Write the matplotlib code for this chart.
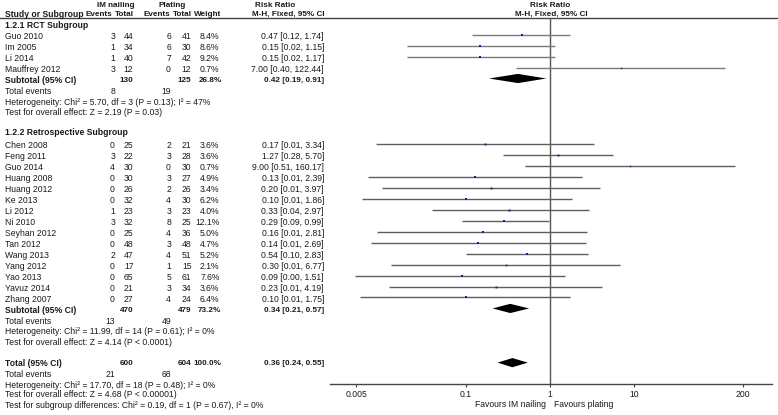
import matplotlib
matplotlib.use("Agg")
import matplotlib.pyplot as plt
import numpy as np

plt.rcParams['font.family'] = ['Liberation Sans', 'DejaVu Sans']

# ---------------- data ----------------
rct_studies = ["Guo 2010", "Im 2005", "Li 2014", "Mauffrey 2012"]
rct_im_events = [3, 1, 1, 3]
rct_im_total = [44, 34, 40, 12]
rct_pl_events = [6, 6, 7, 0]
rct_pl_total = [41, 30, 42, 12]
rct_weight = [8.4, 8.6, 9.2, 0.7]
rct_rr = [0.47, 0.15, 0.15, 7.00]
rct_lo = [0.12, 0.02, 0.02, 0.40]
rct_hi = [1.74, 1.15, 1.17, 122.44]

ret_studies = ["Chen 2008", "Feng 2011", "Guo 2014", "Huang 2008", "Huang 2012",
               "Ke 2013", "Li 2012", "Ni 2010", "Seyhan 2012", "Tan 2012",
               "Wang 2013", "Yang 2012", "Yao 2013", "Yavuz 2014", "Zhang 2007"]
ret_im_events = [0, 3, 4, 0, 0, 0, 1, 3, 0, 0, 2, 0, 0, 0, 0]
ret_im_total = [25, 22, 30, 30, 26, 32, 23, 32, 25, 48, 47, 17, 65, 21, 27]
ret_pl_events = [2, 3, 0, 3, 2, 4, 3, 8, 4, 3, 4, 1, 5, 3, 4]
ret_pl_total = [21, 28, 30, 27, 26, 30, 23, 25, 36, 48, 51, 15, 61, 34, 24]
ret_weight = [3.6, 3.6, 0.7, 4.9, 3.4, 6.2, 4.0, 12.1, 5.0, 4.7, 5.2, 2.1, 7.6, 3.6, 6.4]
ret_rr = [0.17, 1.27, 9.00, 0.13, 0.20, 0.10, 0.33, 0.29, 0.16, 0.14, 0.54, 0.30, 0.09, 0.23, 0.10]
ret_lo = [0.0086, 0.28, 0.51, 0.0070, 0.0101, 0.0059, 0.04, 0.09, 0.0089, 0.0076, 0.10, 0.013, 0.0048, 0.0123, 0.0056]
ret_hi = [3.34, 5.70, 160.17, 2.39, 3.97, 1.86, 2.97, 0.99, 2.81, 2.69, 2.83, 6.77, 1.51, 4.19, 1.75]

rct_sub = dict(im_total=130, pl_total=125, weight=26.8, rr=0.42, lo=0.19, hi=0.91,
               im_ev=8, pl_ev=19,
               het="Heterogeneity: Chi\u00b2 = 5.70, df = 3 (P = 0.13); I\u00b2 = 47%",
               test="Test for overall effect: Z = 2.19 (P = 0.03)")
ret_sub = dict(im_total=470, pl_total=479, weight=73.2, rr=0.34, lo=0.21, hi=0.57,
               im_ev=13, pl_ev=49,
               het="Heterogeneity: Chi\u00b2 = 11.99, df = 14 (P = 0.61); I\u00b2 = 0%",
               test="Test for overall effect: Z = 4.14 (P < 0.0001)")
overall = dict(im_total=600, pl_total=604, weight=100.0, rr=0.36, lo=0.24, hi=0.55,
               im_ev=21, pl_ev=68,
               het="Heterogeneity: Chi\u00b2 = 17.70, df = 18 (P = 0.48); I\u00b2 = 0%",
               test="Test for overall effect: Z = 4.68 (P < 0.00001)")
subgroup_test = "Test for subgroup differences: Chi\u00b2 = 0.19, df = 1 (P = 0.67), I\u00b2 = 0%"

axis_ticks = [0.005, 0.1, 1, 10, 200]
axis_ticklabels = ["0.005", "0.1", "1", "10", "200"]

# ---------------- layout ----------------
W, H = 778, 415
Y0, DY = 23.75, 10.95          # pixel y of row 0 and row spacing


def r2px(r):
    return Y0 + r * DY


def px2r(p):
    return (p - Y0) / DY


FS = 6.2
FSB = 5.9
TXT = '#1a1a1a'
X_LABEL = 5
X_EV1, X_TOT1, X_EV2, X_TOT2, X_WT, X_RR = 115, 133.5, 171, 191.5, 219.5, 324

fig = plt.figure(figsize=(W / 100, H / 100), dpi=100)
fig.patch.set_facecolor('white')

axt = fig.add_axes([0, 0, 1, 1])
axt.set_xlim(0, W)
axt.set_ylim(px2r(H), px2r(0))
axt.axis('off')

# forest axes
AX_L, AX_R = 330, 772
AX_TOP, AX_BOT = 18.5, 383.5
PPD = 84.16                   # pixels per decade
X_ONE = 549.7
axf = fig.add_axes([AX_L / W, 1 - AX_BOT / H, (AX_R - AX_L) / W, (AX_BOT - AX_TOP) / H])
axf.set_xscale('log')
axf.set_xlim(10 ** ((AX_L - X_ONE) / PPD), 10 ** ((AX_R - X_ONE) / PPD))
axf.set_ylim(px2r(AX_BOT), px2r(AX_TOP))
axf.patch.set_alpha(0)
for s in ['top', 'left', 'right']:
    axf.spines[s].set_visible(False)
axf.spines['bottom'].set_color('#444444')
axf.spines['bottom'].set_linewidth(1.0)
axf.set_yticks([])
axf.set_xticks(axis_ticks)
axf.set_xticklabels(axis_ticklabels)
axf.xaxis.set_minor_locator(matplotlib.ticker.NullLocator())
axf.tick_params(axis='x', direction='out', length=2.5, width=0.8, color='#444444',
                labelsize=FS, pad=2.5, labelcolor=TXT)
axf.axvline(1, color='#555555', lw=1.0, zorder=1)


def txt(x, r, s, ha='left', bold=False, dy=0.0, size=None):
    axt.text(x, r + dy, s, ha=ha, va='center',
             fontsize=size if size else (FSB if bold else FS), color=TXT,
             fontweight='bold' if bold else 'normal')


# headers
hr1, hr2 = px2r(5.5), px2r(14.5)
txt(115.3, hr1, "IM nailing", ha='center', bold=True)
txt(172.5, hr1, "Plating", ha='center', bold=True)
txt(275, hr1, "Risk Ratio", ha='center', bold=True)
txt(550.5, hr1, "Risk Ratio", ha='center', bold=True)
txt(X_LABEL, hr2, "Study or Subgroup", bold=True, size=FS)
txt(112, hr2, "Events", ha='right', bold=True)
txt(133.5, hr2, "Total", ha='right', bold=True)
txt(170.5, hr2, "Events", ha='right', bold=True)
txt(192, hr2, "Total", ha='right', bold=True)
txt(221, hr2, "Weight", ha='right', bold=True)
txt(325, hr2, "M-H, Fixed, 95% CI", ha='right', bold=True)
txt(551.5, hr2, "M-H, Fixed, 95% CI", ha='center', bold=True)
axt.plot([0, W], [px2r(AX_TOP), px2r(AX_TOP)], color='#444444', lw=1.0)

TD = 0.15   # small downward offset of text relative to plotted line


def fmt_rr(rr, lo, hi):
    return f"{rr:.2f} [{lo:.2f}, {hi:.2f}]"


def study_rows(start, names, e1, t1, e2, t2, w, rr, lo, hi, color):
    for i, n in enumerate(names):
        r = start + i
        txt(X_LABEL, r, n, dy=TD)
        txt(X_EV1, r, str(e1[i]), ha='right', dy=TD)
        txt(X_TOT1, r, str(t1[i]), ha='right', dy=TD)
        txt(X_EV2, r, str(e2[i]), ha='right', dy=TD)
        txt(X_TOT2, r, str(t2[i]), ha='right', dy=TD)
        txt(X_WT, r, f"{w[i]:.1f}%", ha='right', dy=TD)
        txt(X_RR, r, fmt_rr(rr[i], lo[i], hi[i]), ha='right', dy=TD)
        axf.plot([lo[i], hi[i]], [r, r], color=color, lw=1.0, zorder=2,
                 solid_capstyle='butt')
        axf.plot([rr[i]], [r], marker='s', color='#1a1a9a', ms=0.33 * np.sqrt(w[i]) + 0.75,
                 mew=0, zorder=3, ls='none')


def summary_rows(rows, label, d, diamond_r):
    r, r_ev, r_het, r_test = rows
    txt(X_LABEL, r, label, bold=True, dy=TD, size=FS)
    txt(X_TOT1, r, str(d['im_total']), ha='right', bold=True, dy=TD)
    txt(X_TOT2, r, str(d['pl_total']), ha='right', bold=True, dy=TD)
    txt(X_WT + 2.0, r, f"{d['weight']:.1f}%", ha='right', bold=True, dy=TD)
    txt(X_RR, r, fmt_rr(d['rr'], d['lo'], d['hi']), ha='right', bold=True, dy=TD)
    h = 0.42
    axf.fill([d['lo'], d['rr'], d['hi'], d['rr']],
             [diamond_r, diamond_r - h, diamond_r, diamond_r + h],
             color='black', lw=0, zorder=3)
    txt(X_LABEL, r_ev, "Total events", dy=TD)
    txt(X_EV1, r_ev, str(d['im_ev']), ha='right', dy=TD)
    txt(X_EV2, r_ev, str(d['pl_ev']), ha='right', dy=TD)
    txt(X_LABEL, r_het, d['het'], dy=TD)
    txt(X_LABEL, r_test, d['test'], dy=TD)


txt(X_LABEL, 0, "1.2.1 RCT Subgroup", bold=True, dy=TD, size=FS)
study_rows(1, rct_studies, rct_im_events, rct_im_total, rct_pl_events, rct_pl_total,
           rct_weight, rct_rr, rct_lo, rct_hi, '#7a7a7a')
summary_rows((5, 6, 7, 8), "Subtotal (95% CI)", rct_sub, 5)

txt(X_LABEL, 9.75, "1.2.2 Retrospective Subgroup", bold=True, dy=TD, size=FS)
study_rows(11, ret_studies, ret_im_events, ret_im_total, ret_pl_events, ret_pl_total,
           ret_weight, ret_rr, ret_lo, ret_hi, '#5e5e5e')
summary_rows((26, 27, 28, 29), "Subtotal (95% CI)", ret_sub, 26)

summary_rows((30.9, 31.9, 32.85, 33.75), "Total (95% CI)", overall, 30.95)
txt(X_LABEL, 34.7, subgroup_test, dy=TD)

# favours labels
axt.text(546, px2r(404.5), "Favours IM nailing", ha='right', va='center', fontsize=FS, color=TXT)
axt.text(554, px2r(404.5), "Favours plating", ha='left', va='center', fontsize=FS, color=TXT)

fig.savefig("out.png", dpi=100, facecolor='white')
